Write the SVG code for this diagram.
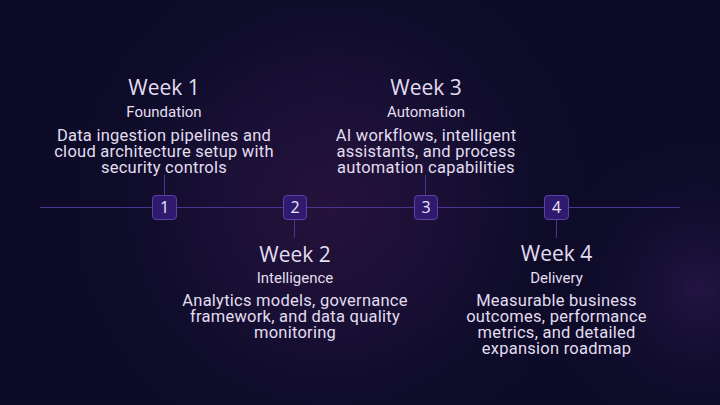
<svg xmlns="http://www.w3.org/2000/svg" width="720" height="405" viewBox="0 0 720 405">
<defs>
<radialGradient id="glow1" cx="330" cy="205" r="270" gradientUnits="userSpaceOnUse">
<stop offset="0" stop-color="#26123c"/>
<stop offset="0.5" stop-color="#170f33"/>
<stop offset="1" stop-color="#0d0b28" stop-opacity="0"/>
</radialGradient>
<radialGradient id="glow2" cx="700" cy="290" r="160" gradientUnits="userSpaceOnUse">
<stop offset="0" stop-color="#221443"/>
<stop offset="1" stop-color="#0d0b28" stop-opacity="0"/>
</radialGradient>
<style>
.h{font-family:"Open Sans","Lato",sans-serif;font-size:21px;fill:#e2def0;text-anchor:middle}
.s{font-family:Roboto,"Noto Sans",sans-serif;font-size:15px;fill:#e2def0;text-anchor:middle}
.d{font-family:Roboto,"Noto Sans",sans-serif;font-size:16.5px;letter-spacing:0.25px;fill:#e2def0;text-anchor:middle}
.n{font-family:"Open Sans","Lato",sans-serif;font-size:16px;fill:#ece8f8;text-anchor:middle}
.box{fill:#2f1a6e;stroke:#5b40a6;stroke-width:1}
.ln{stroke:#4a3592;stroke-width:1;fill:none}
</style>
</defs>
<rect width="720" height="405" fill="#0d0b28"/>
<rect width="720" height="405" fill="url(#glow1)"/>
<rect width="720" height="405" fill="url(#glow2)"/>
<g id="connectors">
<line class="ln" x1="40" y1="207.5" x2="680" y2="207.5"/>
<line class="ln" x1="164.5" y1="175" x2="164.5" y2="195"/>
<line class="ln" x1="294.5" y1="219" x2="294.5" y2="238"/>
<line class="ln" x1="425.5" y1="175" x2="425.5" y2="195"/>
<line class="ln" x1="556.5" y1="219" x2="556.5" y2="238"/>
</g>
<g id="week1">
<rect class="box" x="152.5" y="195.5" width="24" height="24" rx="3.5"/>
<text class="n" x="164.5" y="213">1</text>
<text class="h" x="164" y="95">Week 1</text>
<text class="s" x="164" y="116.5">Foundation</text>
<text class="d" x="164" y="140.5">Data ingestion pipelines and</text>
<text class="d" x="164" y="157">cloud architecture setup with</text>
<text class="d" x="164" y="172.5">security controls</text>
</g>
<g id="week2">
<rect class="box" x="283.5" y="195.5" width="23" height="24" rx="3.5"/>
<text class="n" x="295" y="213">2</text>
<text class="h" x="295" y="261.5">Week 2</text>
<text class="s" x="295" y="283">Intelligence</text>
<text class="d" x="295" y="305.5">Analytics models, governance</text>
<text class="d" x="295" y="322">framework, and data quality</text>
<text class="d" x="295" y="337.5">monitoring</text>
</g>
<g id="week3">
<rect class="box" x="414.5" y="195.5" width="23" height="24" rx="3.5"/>
<text class="n" x="426" y="213">3</text>
<text class="h" x="426" y="95">Week 3</text>
<text class="s" x="426" y="116.5">Automation</text>
<text class="d" x="426" y="140.5">AI workflows, intelligent</text>
<text class="d" x="426" y="157">assistants, and process</text>
<text class="d" x="426" y="172.5">automation capabilities</text>
</g>
<g id="week4">
<rect class="box" x="544.5" y="195.5" width="24" height="24" rx="3.5"/>
<text class="n" x="556.5" y="213">4</text>
<text class="h" x="556.5" y="261">Week 4</text>
<text class="s" x="556.5" y="283">Delivery</text>
<text class="d" x="556.5" y="305.5">Measurable business</text>
<text class="d" x="556.5" y="322">outcomes, performance</text>
<text class="d" x="556.5" y="338">metrics, and detailed</text>
<text class="d" x="556.5" y="354">expansion roadmap</text>
</g>
</svg>
